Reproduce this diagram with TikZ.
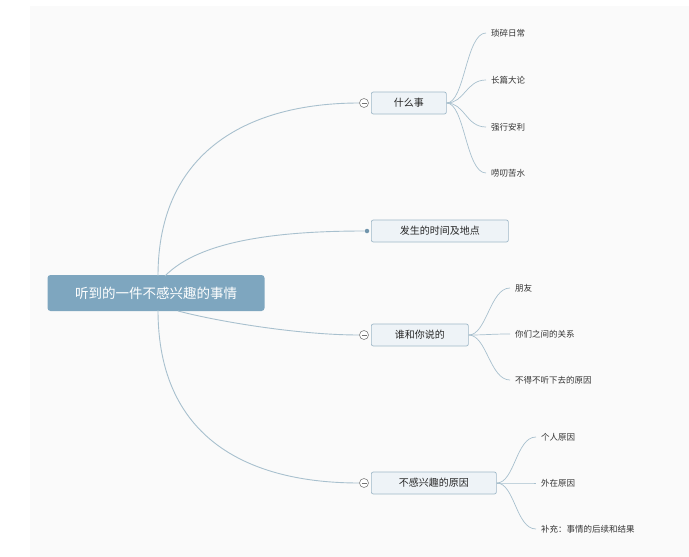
\documentclass[tikz,border=0pt]{standalone}
\usepackage{fontspec}
\setmainfont{Noto Sans CJK SC}
\begin{document}
\begin{tikzpicture}[x=1pt,y=-1pt,
  ln/.style={draw=lc,line width=0.9pt},
  br/.style={draw=bc,fill=bf,rounded corners=2pt,line width=0.7pt,minimum height=22pt,inner xsep=8pt,font=\fontsize{10}{12}\selectfont,text=black!85},
  lf/.style={anchor=west,font=\fontsize{8.5}{10}\selectfont,text=black!80,inner sep=1pt},
  tog/.style={circle,draw=black!50,fill=white,minimum size=9pt,inner sep=0pt,line width=0.6pt}]
\definecolor{lc}{HTML}{A8C0CE}
\definecolor{bc}{HTML}{9FB8C8}
\definecolor{bf}{HTML}{EEF3F7}
\definecolor{rf}{HTML}{7EA6BF}
\useasboundingbox (0,0) rectangle (689,557);
\fill[black!2] (30,6) rectangle (689,557);
\node[fill=rf,rounded corners=3pt,minimum width=217pt,minimum height=36pt,text=white,font=\fontsize{13.5}{16}\selectfont] (root) at (156,293) {听到的一件不感兴趣的事情};
\node[br,anchor=west,minimum width=75pt] (b1) at (371,103) {什么事};
\node[br,anchor=west,minimum width=137pt] (b2) at (371,231) {发生的时间及地点};
\node[br,anchor=west,minimum width=97pt] (b3) at (371,335) {谁和你说的};
\node[br,anchor=west,minimum width=125pt] (b4) at (371,483) {不感兴趣的原因};
\node[tog] (t1) at (364,103) {};
\node[tog] (t3) at (364,335) {};
\node[tog] (t4) at (364,483) {};
\node[circle,fill=rf!90!black,inner sep=0pt,minimum size=4.5pt] (t2) at (367,231) {};
\foreach \t in {t1,t3,t4}{\draw[black!55,line width=0.6pt] ([xshift=-2.5pt]\t.center) -- ([xshift=2.5pt]\t.center);}
\coordinate (r1) at (158,276);
\coordinate (r2) at (165,276);
\coordinate (r3) at (178,311);
\coordinate (r4) at (158,310);
\draw[ln] (r1) .. controls (158,150) and (250,103) .. (t1.west);
\draw[ln] (r2) .. controls (200,240) and (280,231) .. (t2.west);
\draw[ln] (r3) .. controls (220,322) and (300,335) .. (t3.west);
\draw[ln] (r4) .. controls (158,440) and (250,483) .. (t4.west);
% leaves
\node[lf] (l1) at (490,33) {琐碎日常};
\node[lf] (l2) at (490,80) {长篇大论};
\node[lf] (l3) at (490,127) {强行安利};
\node[lf] (l4) at (490,173) {唠叨苦水};
\node[lf] (m1) at (514,288) {朋友};
\node[lf] (m2) at (514,334) {你们之间的关系};
\node[lf] (m3) at (514,380) {不得不听下去的原因};
\node[lf] (n1) at (540,437) {个人原因};
\node[lf] (n2) at (540,483) {外在原因};
\node[lf] (n3) at (540,529) {补充：事情的后续和结果};
\foreach \l in {l1,l2,l3,l4}{\draw[ln,line width=0.7pt] (b1.east) .. controls +(18,0) and +(-20,0) .. ([xshift=-4pt]\l.west);}
\foreach \l in {m1,m2,m3}{\draw[ln,line width=0.7pt] (b3.east) .. controls +(18,0) and +(-20,0) .. ([xshift=-4pt]\l.west);}
\foreach \l in {n1,n2,n3}{\draw[ln,line width=0.7pt] (b4.east) .. controls +(18,0) and +(-20,0) .. ([xshift=-4pt]\l.west);}
\end{tikzpicture}
\end{document}
